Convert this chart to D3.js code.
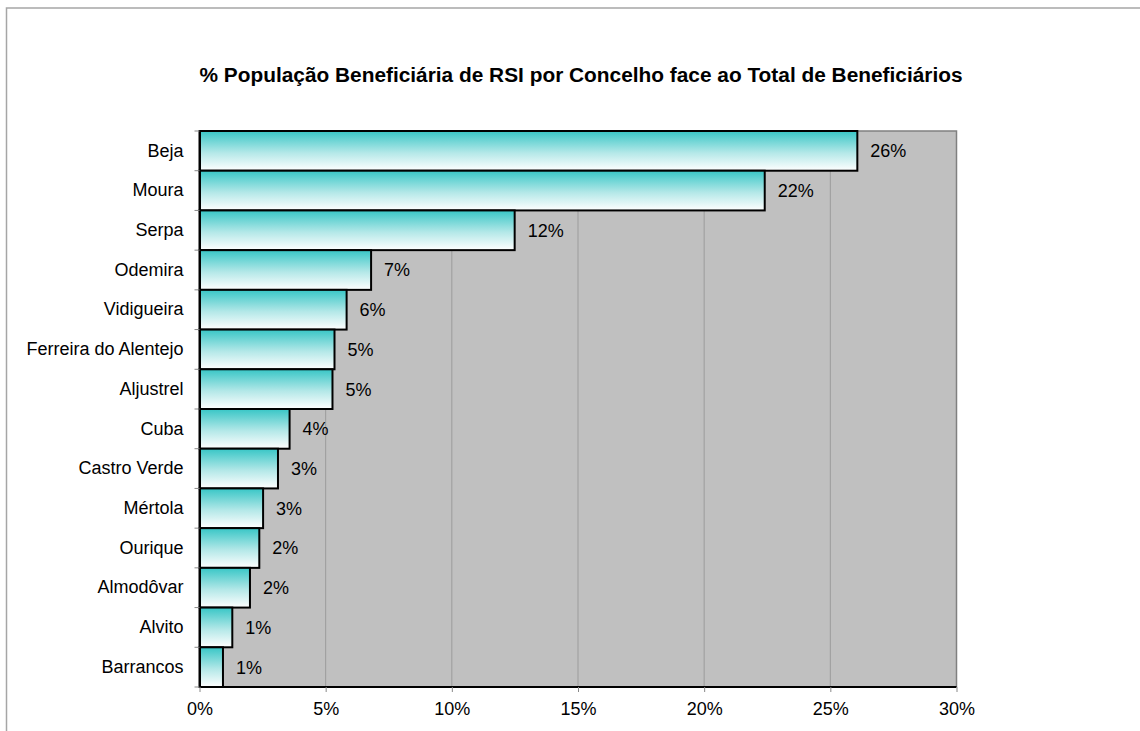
<!DOCTYPE html>
<html>
<head>
<meta charset="utf-8">
<script src="https://cdnjs.cloudflare.com/ajax/libs/d3/7.8.5/d3.min.js"></script>
<style>
  body { margin: 0; background: #fff; }
  svg text { font-family: Arial, "Liberation Sans", sans-serif; fill: #000; }
</style>
</head>
<body>
<div id="chart"></div>
<script>
// data
const title = "% População Beneficiária de RSI por Concelho face ao Total de Beneficiários";
const concelhos = ["Beja", "Moura", "Serpa", "Odemira", "Vidigueira", "Ferreira do Alentejo",
  "Aljustrel", "Cuba", "Castro Verde", "Mértola", "Ourique", "Almodôvar", "Alvito", "Barrancos"];
const shares = [0.2607, 0.2240, 0.1249, 0.0680, 0.0583, 0.0535, 0.0527,
  0.0357, 0.0311, 0.0252, 0.0237, 0.0200, 0.0130, 0.0093];
const xTicks = [0, 0.05, 0.10, 0.15, 0.20, 0.25, 0.30];

const width = 1140;
const height = 731;
const plot = { left: 199.5, right: 956.5, top: 131, bottom: 687 };
const fontSize = 18;

const svg = d3.select("#chart")
  .append("svg")
  .attr("width", width)
  .attr("height", height);

// gradient for bars
const grad = svg.append("defs").append("linearGradient")
  .attr("id", "barFill")
  .attr("x1", 0).attr("y1", 0).attr("x2", 0).attr("y2", 1);
grad.append("stop").attr("offset", "0%").attr("stop-color", "#38c6c6");
grad.append("stop").attr("offset", "55%").attr("stop-color", "#b4e8e8");
grad.append("stop").attr("offset", "100%").attr("stop-color", "#ffffff");

// outer chart frame
svg.append("rect")
  .attr("x", 6.5).attr("y", 8)
  .attr("width", width + 20).attr("height", height + 20)
  .attr("fill", "none")
  .attr("stroke", "#a6a6a6")
  .attr("stroke-width", 1.5);

// scales
const x = d3.scaleLinear().domain([0, 0.30]).range([plot.left, plot.right]);
const y = d3.scaleBand().domain(concelhos).range([plot.top, plot.bottom]).padding(0);

// plot background
svg.append("rect")
  .attr("x", plot.left).attr("y", plot.top)
  .attr("width", plot.right - plot.left).attr("height", plot.bottom - plot.top)
  .attr("fill", "#c0c0c0");

// gridlines
svg.append("g")
  .selectAll("line")
  .data(xTicks.slice(1, -1))
  .join("line")
  .attr("x1", d => x(d)).attr("x2", d => x(d))
  .attr("y1", plot.top).attr("y2", plot.bottom)
  .attr("stroke", "#9c9c9c")
  .attr("stroke-width", 1);

// top + right border of plot
svg.append("path")
  .attr("d", `M${plot.left},${plot.top}H${plot.right}V${plot.bottom}`)
  .attr("fill", "none")
  .attr("stroke", "#808080")
  .attr("stroke-width", 1.5);

// bars
svg.append("g")
  .selectAll("rect")
  .data(concelhos)
  .join("rect")
  .attr("x", x(0))
  .attr("y", d => y(d))
  .attr("width", (d, i) => x(shares[i]) - x(0))
  .attr("height", y.bandwidth())
  .attr("fill", "url(#barFill)")
  .attr("stroke", "#000")
  .attr("stroke-width", 2);

// value labels
svg.append("g")
  .selectAll("text")
  .data(concelhos)
  .join("text")
  .attr("x", (d, i) => x(shares[i]) + 13)
  .attr("y", d => y(d) + y.bandwidth() / 2)
  .attr("dy", "0.36em")
  .attr("font-size", fontSize)
  .text((d, i) => Math.round(shares[i] * 100) + "%");

// y axis
const yAxis = svg.append("g")
  .attr("transform", `translate(${plot.left},0)`)
  .call(d3.axisLeft(y).tickSize(0).tickPadding(16));
yAxis.select(".domain").attr("stroke", "#000").attr("stroke-width", 2);
yAxis.selectAll("text").attr("font-size", fontSize).style("font-family", "Arial, 'Liberation Sans', sans-serif");

// y ticks at band boundaries
svg.append("g")
  .selectAll("line")
  .data(d3.range(concelhos.length + 1))
  .join("line")
  .attr("x1", plot.left - 5).attr("x2", plot.left)
  .attr("y1", i => plot.top + i * y.step())
  .attr("y2", i => plot.top + i * y.step())
  .attr("stroke", "#888")
  .attr("stroke-width", 1);

// x axis
const xAxis = svg.append("g")
  .attr("transform", `translate(0,${plot.bottom})`)
  .call(d3.axisBottom(x).tickValues(xTicks).tickFormat(d3.format(".0%")).tickSize(5).tickPadding(10));
xAxis.select(".domain").attr("stroke", "#000").attr("stroke-width", 2).attr("d", `M${plot.left},0H${plot.right}`);
xAxis.selectAll(".tick line").attr("stroke", "#888");
xAxis.selectAll("text").attr("font-size", fontSize).style("font-family", "Arial, 'Liberation Sans', sans-serif");

// title
svg.append("text")
  .attr("x", 581)
  .attr("y", 82)
  .attr("text-anchor", "middle")
  .attr("font-size", 20)
  .attr("font-weight", "bold")
  .attr("textLength", 763)
  .attr("lengthAdjust", "spacingAndGlyphs")
  .text(title);
</script>
</body>
</html>
